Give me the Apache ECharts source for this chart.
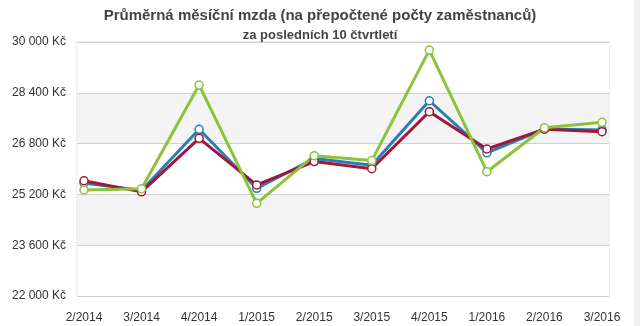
<!DOCTYPE html>
<html>
<head>
<meta charset="utf-8">
<script src="https://cdn.jsdelivr.net/npm/echarts@6/dist/echarts.min.js"></script>
<style>
  html, body { margin: 0; padding: 0; background: #fff; }
  #chart { width: 640px; height: 326px; }
</style>
</head>
<body>
<div id="chart"></div>
<script>
// Quarters shown on the category axis
const quarters = ['2/2014', '3/2014', '4/2014', '1/2015', '2/2015', '3/2015', '4/2015', '1/2016', '2/2016', '3/2016'];

// Average monthly wage per quarter (Kč), three series
const wageBlue  = [25560, 25320, 27250, 25390, 26330, 26120, 28150, 26510, 27260, 27230];
const wageRed   = [25630, 25280, 26965, 25500, 26235, 26010, 27805, 26630, 27255, 27175];
const wageGreen = [25340, 25380, 28645, 24920, 26420, 26265, 29745, 25915, 27300, 27470];

// Value axis range and step
const yMin = 22000;
const yMax = 30000;
const yStep = 1600;

const font = "'Liberation Sans', Arial, sans-serif";

function kc(v) {
  return String(v).replace(/\B(?=(\d{3})+(?!\d))/g, ' ') + ' Kč';
}

function lineSeries(name, data, color) {
  return {
    name: name,
    type: 'line',
    xAxisIndex: 1,
    yAxisIndex: 1,
    data: data,
    symbol: 'circle',
    symbolSize: 8,
    showSymbol: true,
    lineStyle: { color: color, width: 3 },
    itemStyle: { color: '#ffffff', borderColor: color, borderWidth: 1.5 },
    emphasis: { disabled: true },
    z: 3
  };
}

const chart = echarts.init(document.getElementById('chart'), null, { renderer: 'canvas' });
chart.setOption({
  animation: false,
  backgroundColor: '#ffffff',
  title: {
    text: 'Průměrná měsíční mzda (na přepočtené počty zaměstnanců)',
    subtext: 'za posledních 10 čtvrtletí',
    left: 'center',
    top: 3,
    itemGap: 6,
    textStyle: { fontFamily: font, fontSize: 15, fontWeight: 'bold', color: '#444' },
    subtextStyle: { fontFamily: font, fontSize: 13, fontWeight: 'bold', color: '#444' }
  },
  graphic: [{
    type: 'rect',
    right: 0, top: 0,
    shape: { width: 6, height: 326 },
    style: { fill: '#f0f0f0' },
    silent: true
  }],
  grid: [
    { left: 77, right: 31, top: 42, bottom: 30, show: true, borderColor: '#dddddd', borderWidth: 1, backgroundColor: 'transparent' },
    { left: 84, right: 38, top: 42, bottom: 30 }
  ],
  xAxis: [
    { type: 'category', gridIndex: 0, data: quarters, show: false },
    {
      type: 'category', gridIndex: 1, data: quarters, boundaryGap: false,
      axisLine: { show: false }, axisTick: { show: false },
      axisLabel: { fontFamily: font, fontSize: 12, color: '#333', margin: 16 },
      splitLine: { show: false }
    }
  ],
  yAxis: [
    {
      type: 'value', gridIndex: 0, min: yMin, max: yMax, interval: yStep,
      axisLine: { show: false }, axisTick: { show: false },
      axisLabel: { fontFamily: font, fontSize: 12, color: '#333', margin: 11, formatter: kc },
      splitLine: { show: true, lineStyle: { color: '#d0d0d0', width: 1 } },
      splitArea: { show: true, areaStyle: { color: ['#ffffff', '#f4f4f4'] } }
    },
    { type: 'value', gridIndex: 1, min: yMin, max: yMax, interval: yStep, show: false, splitLine: { show: false } }
  ],
  series: [
    lineSeries('Modrá', wageBlue, '#2b7cb8'),
    lineSeries('Červená', wageRed, '#9e1a3a'),
    lineSeries('Zelená', wageGreen, '#8cc23c')
  ]
});
</script>
</body>
</html>
